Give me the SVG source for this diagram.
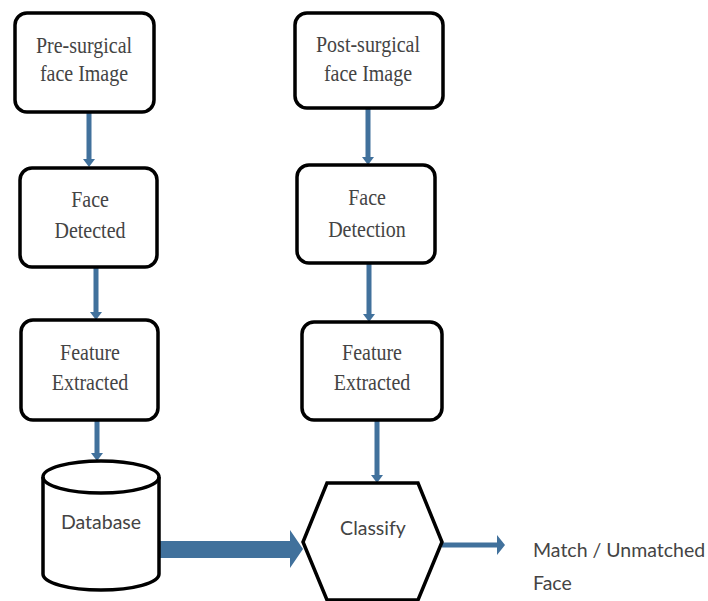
<svg xmlns="http://www.w3.org/2000/svg" width="708" height="601" viewBox="0 0 708 601">
<style>
.box{fill:#fff;stroke:#000;stroke-width:3.5}
.t{font-family:"Liberation Serif","Times New Roman",serif;font-size:20px;fill:#444;text-anchor:middle}
.s{font-family:Lato,"Liberation Sans",sans-serif;font-size:19.5px;fill:#444}
.a{fill:#41719c}
</style>
<rect width="708" height="601" fill="#fff"/>
<g id="connectors">
<polygon class="a" points="86.5,113 91.5,113 91.5,159 95,159 89,167 83,159 86.5,159"/>
<polygon class="a" points="93.5,267 98.5,267 98.5,312 102,312 96,320 90,312 93.5,312"/>
<polygon class="a" points="94.5,420 99.5,420 99.5,453 103,453 97,461 91,453 94.5,453"/>
<polygon class="a" points="365.5,108 370.5,108 370.5,157 374,157 368,165 362,157 365.5,157"/>
<polygon class="a" points="366.5,263 371.5,263 371.5,314 375,314 369,322 363,314 366.5,314"/>
<polygon class="a" points="374.5,420 379.5,420 379.5,475 383,475 377,483 371,475 374.5,475"/>
<polygon class="a" points="159,541 290,541 290,530 303,549 290,568 290,558 159,558"/>
<polygon class="a" points="442,542.5 497,542.5 497,535 505,545 497,555 497,547.5 442,547.5"/>
</g>
<g id="pre">
<rect class="box" x="15" y="13" width="139" height="99" rx="12"/>
<text class="t" transform="translate(84,53) scale(1,1.13)">Pre-surgical</text>
<text class="t" transform="translate(84,81) scale(1,1.13)">face Image</text>
</g>
<g id="post">
<rect class="box" x="295" y="13" width="148" height="95" rx="12"/>
<text class="t" transform="translate(368,52) scale(1,1.13)">Post-surgical</text>
<text class="t" transform="translate(368,81) scale(1,1.13)">face Image</text>
</g>
<g id="detected">
<rect class="box" x="20" y="168" width="137" height="99" rx="12"/>
<text class="t" transform="translate(90,207) scale(1,1.13)">Face</text>
<text class="t" transform="translate(90,238) scale(1,1.13)">Detected</text>
</g>
<g id="detection">
<rect class="box" x="297" y="165" width="138" height="98" rx="12"/>
<text class="t" transform="translate(367,205) scale(1,1.13)">Face</text>
<text class="t" transform="translate(367,237) scale(1,1.13)">Detection</text>
</g>
<g id="feat1">
<rect class="box" x="21" y="320" width="137" height="100" rx="12"/>
<text class="t" transform="translate(90,360) scale(1,1.13)">Feature</text>
<text class="t" transform="translate(90,390) scale(1,1.13)">Extracted</text>
</g>
<g id="feat2">
<rect class="box" x="302" y="322" width="140" height="98" rx="12"/>
<text class="t" transform="translate(372,360) scale(1,1.13)">Feature</text>
<text class="t" transform="translate(372,390) scale(1,1.13)">Extracted</text>
</g>
<g id="database">
<path class="box" d="M43,477 L43,574 A58,16 0 0 0 159,574 L159,477 A58,16 0 0 0 43,477 Z"/>
<path d="M43,477 A58,16 0 0 0 159,477" fill="none" stroke="#000" stroke-width="3.5"/>
<text class="s" x="101" y="529" text-anchor="middle">Database</text>
</g>
<g id="classify">
<polygon class="box" points="327,483 418,483 442,542 418,600 327,600 303,542"/>
<text class="s" x="373" y="535" text-anchor="middle">Classify</text>
</g>
<g id="result">
<text class="s" x="533" y="557">Match / Unmatched</text>
<text class="s" x="533" y="590">Face</text>
</g>
</svg>
